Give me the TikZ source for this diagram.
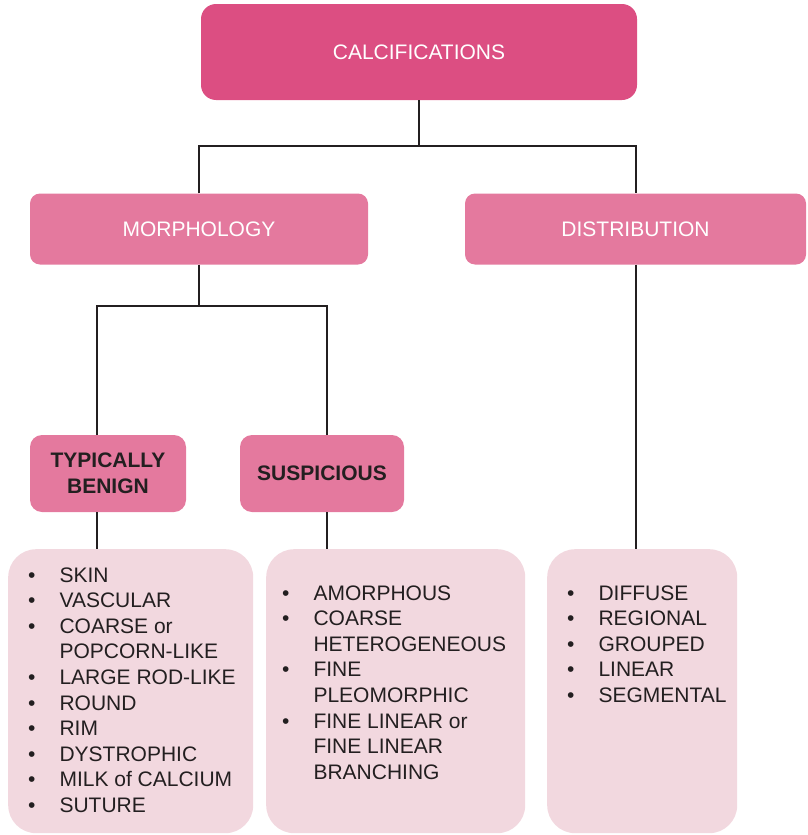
\documentclass[tikz,border=0pt]{standalone}
\usepackage{fontspec}
\setmainfont{Liberation Sans}
\definecolor{calcpink}{HTML}{DC4E82}
\definecolor{midpink}{HTML}{E4799E}
\definecolor{listpink}{HTML}{F2D8DF}
\definecolor{inkdark}{HTML}{231F20}
% #1 gap above the first line, #2 left indent, #3 box width, #4 the rows
\newcommand{\calclist}[4]{\vbox to 284pt{\vskip #1\hbox to #3{\begin{tabular}[t]{@{\hspace{#2}}l@{\hspace{24pt}}l@{}}#4\end{tabular}\hfil}\vfil}}

\begin{document}
\begin{tikzpicture}[x=1pt,y=-1pt,
    every node/.style={font=\fontsize{21}{25.6}\selectfont, inner sep=0pt},
    headbox/.style={fill=calcpink, text=white, rounded corners=15pt},
    groupbox/.style={fill=midpink, text=white, rounded corners=10pt},
    kindbox/.style={fill=midpink, text=inkdark, rounded corners=12pt, align=center, font=\fontsize{21}{26}\selectfont\bfseries},
    listbox/.style={fill=listpink, text=inkdark, rounded corners=28pt, anchor=north west, minimum height=284pt},
    link/.style={draw=inkdark, line width=2pt}]
  \useasboundingbox (0,0) rectangle (808,835);
  \node[headbox, minimum width=436pt, minimum height=96pt] (calc) at (419,52) {CALCIFICATIONS};
  \node[groupbox, minimum width=338pt, minimum height=71pt] (morph) at (199,229) {MORPHOLOGY};
  \node[groupbox, minimum width=341pt, minimum height=71pt] (dist) at (635.5,229) {DISTRIBUTION};
  \node[kindbox, minimum width=156pt, minimum height=77pt] (benign) at (108,473.5) {TYPICALLY\\BENIGN};
  \node[kindbox, minimum width=164pt, minimum height=77pt] (susp) at (322,473.5) {SUSPICIOUS};
  \node[listbox, minimum width=245pt] (benignlist) at (8,549) {\calclist{15pt}{20pt}{245pt}{%
    \textbullet & SKIN\\
    \textbullet & VASCULAR\\
    \textbullet & COARSE or\\
                & POPCORN-LIKE\\
    \textbullet & LARGE ROD-LIKE\\
    \textbullet & ROUND\\
    \textbullet & RIM\\
    \textbullet & DYSTROPHIC\\
    \textbullet & MILK of CALCIUM\\
    \textbullet & SUTURE}};
  \node[listbox, minimum width=259pt] (susplist) at (266,549) {\calclist{33pt}{16pt}{259pt}{%
    \textbullet & AMORPHOUS\\
    \textbullet & COARSE\\
                & HETEROGENEOUS\\
    \textbullet & FINE\\
                & PLEOMORPHIC\\
    \textbullet & FINE LINEAR or\\
                & FINE LINEAR\\
                & BRANCHING}};
  \node[listbox, minimum width=190pt] (distlist) at (547,549) {\calclist{33pt}{20pt}{190pt}{%
    \textbullet & DIFFUSE\\
    \textbullet & REGIONAL\\
    \textbullet & GROUPED\\
    \textbullet & LINEAR\\
    \textbullet & SEGMENTAL}};
  % tree lines
  \draw[link] (calc.south) -- ++(0,46) coordinate (topfork);
  \draw[link] (morph.north) |- (topfork) -| (dist.north);
  \draw[link] (morph.south) -- ++(0,41) coordinate (morphfork);
  \draw[link] ([xshift=-11pt]benign.north) |- (morphfork) -| ([xshift=5pt]susp.north);
  \draw[link] ([xshift=-11pt]benign.south) -- ([xshift=-11pt]benign.south |- benignlist.north);
  \draw[link] ([xshift=5pt]susp.south) -- ([xshift=5pt]susp.south |- susplist.north);
  \draw[link] (dist.south) -- (dist.south |- distlist.north);
\end{tikzpicture}
\end{document}
